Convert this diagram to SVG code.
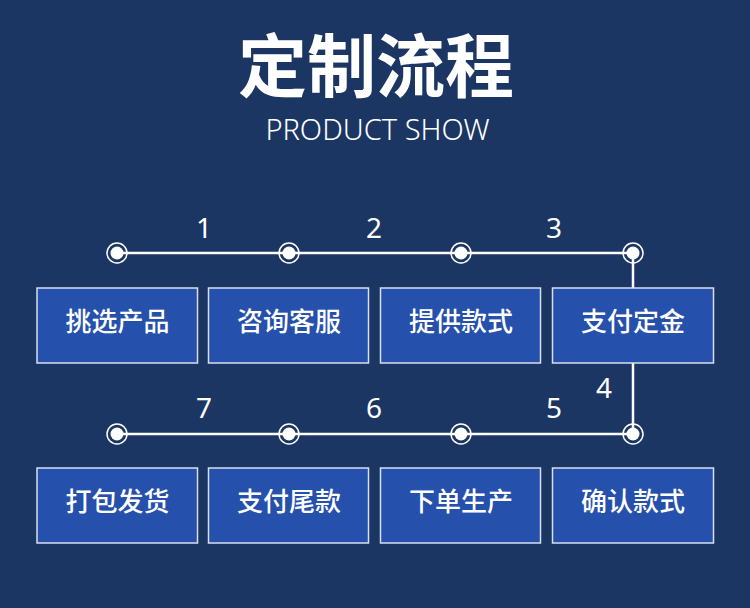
<svg xmlns="http://www.w3.org/2000/svg" width="750" height="608" viewBox="0 0 750 608">
<style>
.bg{fill:#1b3662}
.box{fill:#2550ab;stroke:#d8def0;stroke-width:1.5}
.bt{font-family:"Noto Sans CJK SC","Noto Sans",sans-serif;font-size:26px;font-weight:500;fill:#fff;text-anchor:middle}
.num{font-family:"Noto Sans","Noto Sans CJK SC",sans-serif;font-size:28px;fill:#fff;text-anchor:middle}
.ln{stroke:#fff;stroke-width:2.5;fill:none}
.ring{fill:none;stroke:#fff;stroke-width:1.5}
.dot{fill:#fff}
</style>
<defs>
<g id="node"><circle class="ring" r="10"/><circle class="dot" r="6.5"/></g>
</defs>
<rect class="bg" width="750" height="608"/>
<text x="376" y="92" font-family="Noto Sans CJK SC,sans-serif" font-weight="bold" font-size="69" fill="#fff" text-anchor="middle">定制流程</text>
<text x="377.5" y="140" font-family="Noto Sans,sans-serif" font-weight="300" font-size="29" fill="#fff" text-anchor="middle">PRODUCT SHOW</text>
<g id="connectors">
<path class="ln" d="M117 253 H633 V434 H117"/>
<use href="#node" x="117" y="253"/>
<use href="#node" x="289" y="253"/>
<use href="#node" x="461" y="253"/>
<use href="#node" x="633" y="253"/>
<use href="#node" x="117" y="434"/>
<use href="#node" x="289" y="434"/>
<use href="#node" x="461" y="434"/>
<use href="#node" x="633" y="434"/>
<text class="num" x="204" y="238">1</text>
<text class="num" x="374" y="238">2</text>
<text class="num" x="554" y="238">3</text>
<text class="num" x="604" y="398">4</text>
<text class="num" x="554" y="418">5</text>
<text class="num" x="374" y="418">6</text>
<text class="num" x="204" y="418">7</text>
</g>
<g id="n1"><rect class="box" x="37" y="288" width="160.5" height="75"/><text class="bt" x="117.5" y="331">挑选产品</text></g>
<g id="n2"><rect class="box" x="208.5" y="288" width="160" height="75"/><text class="bt" x="289" y="331">咨询客服</text></g>
<g id="n3"><rect class="box" x="380.5" y="288" width="160" height="75"/><text class="bt" x="461" y="331">提供款式</text></g>
<g id="n4"><rect class="box" x="552.5" y="288" width="161" height="75"/><text class="bt" x="633" y="331">支付定金</text></g>
<g id="n5"><rect class="box" x="552.5" y="468" width="161" height="75"/><text class="bt" x="633" y="511">确认款式</text></g>
<g id="n6"><rect class="box" x="380.5" y="468" width="160" height="75"/><text class="bt" x="461" y="511">下单生产</text></g>
<g id="n7"><rect class="box" x="208.5" y="468" width="160" height="75"/><text class="bt" x="289" y="511">支付尾款</text></g>
<g id="n8"><rect class="box" x="37" y="468" width="160.5" height="75"/><text class="bt" x="117.5" y="511">打包发货</text></g>
</svg>
